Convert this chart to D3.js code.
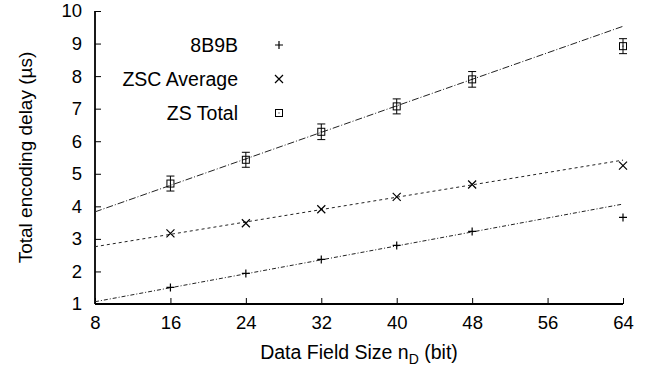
<!DOCTYPE html>
<html lang="en">
  <head>
    <meta charset="utf-8" />
    <script src="https://d3js.org/d3.v7.min.js"></script>
    <style>
      body { margin: 0; background: #fff; }
      text { font-family: "Liberation Sans", Arial, sans-serif; fill: #000; }
    </style>
    <title>Total encoding delay</title>
  </head>
  <body>
    <svg id="chart" width="662" height="373"></svg>

    <script>
      // measured points (x = data field size in bits)
      const sizes = [16, 24, 32, 40, 48, 64];
      const delay8b9b = [1.51, 1.94, 2.37, 2.8, 3.23, 3.66];
      const delayZscAvg = [3.17, 3.48, 3.91, 4.29, 4.67, 5.25];
      const delayZsTotal = [4.7, 5.43, 6.29, 7.07, 7.9, 8.92];
      const errZsTotal = [0.23, 0.23, 0.24, 0.23, 0.24, 0.23];

      // linear fits, value at x=8 and x=64
      const fitX = [8, 64];
      const fit8b9b = [1.07, 4.07];
      const fitZscAvg = [2.76, 5.42];
      const fitZsTotal = [3.83, 9.53];

      const xTicks = [8, 16, 24, 32, 40, 48, 56, 64];
      const yTicks = [1, 2, 3, 4, 5, 6, 7, 8, 9, 10];
      const legendNames = ["8B9B", "ZSC Average", "ZS Total"];

      const svg = d3.select("svg#chart");
      const margin = { left: 95, right: 39, top: 11, bottom: 69 };

      const x = d3.scaleLinear().domain([8, 64]).range([margin.left, 662 - margin.right]);
      const y = d3.scaleLinear().domain([1, 10]).range([373 - margin.bottom, margin.top]);

      // axes (ticks point inward)
      const xAxis = svg
        .append("g")
        .attr("transform", `translate(0,${y(1)})`)
        .call(d3.axisBottom(x).tickValues(xTicks).tickSize(-6).tickPadding(12));
      const yAxis = svg
        .append("g")
        .attr("transform", `translate(${x(8)},0)`)
        .call(d3.axisLeft(y).tickValues(yTicks).tickSize(-6).tickPadding(13));

      [xAxis, yAxis].forEach(g => {
        g.select(".domain").attr("stroke", "#000").attr("stroke-width", 1.8);
        g.selectAll(".tick line").attr("stroke", "#000");
        g.selectAll(".tick text")
          .attr("font-size", "18.5px")
          .attr("font-family", "Liberation Sans, Arial, sans-serif")
          .attr("fill", "#000");
      });
      // drop the outer tick stubs of the domain path
      xAxis.select(".domain").attr("d", `M${x(8)},0H${x(64)}`);
      yAxis.select(".domain").attr("d", `M0,${y(1)}V${y(10)}`);

      // axis titles
      const xTitle = svg
        .append("text")
        .attr("x", 359)
        .attr("y", 359)
        .attr("text-anchor", "middle")
        .attr("font-size", "19.5px");
      xTitle.append("tspan").text("Data Field Size n");
      xTitle.append("tspan").attr("font-size", "14px").attr("dy", 5).text("D");
      xTitle.append("tspan").attr("dy", -5).text(" (bit)");

      svg
        .append("text")
        .attr("transform", `translate(32,${(y(1) + y(10)) / 2}) rotate(-90)`)
        .attr("text-anchor", "middle")
        .attr("font-size", "19px")
        .text("Total encoding delay (\u00b5s)");

      // fit lines
      const line = d3.line().x(d => x(d[0])).y(d => y(d[1]));
      const fits = [
        { vals: fit8b9b, dash: "4,2,1,2" },
        { vals: fitZscAvg, dash: "3,3" },
        { vals: fitZsTotal, dash: "7,2,1,2" },
      ];
      svg
        .append("g")
        .selectAll("path")
        .data(fits)
        .join("path")
        .attr("d", f => line(fitX.map((v, i) => [v, f.vals[i]])))
        .attr("fill", "none")
        .attr("stroke", "#222")
        .attr("stroke-width", 1)
        .attr("stroke-dasharray", f => f.dash);

      // marker drawing helpers
      function plus(g, cx, cy) {
        g.append("path")
          .attr("d", `M${cx - 4},${cy}H${cx + 4}M${cx},${cy - 4}V${cy + 4}`)
          .attr("stroke", "#000")
          .attr("stroke-width", 1.2);
      }
      function cross(g, cx, cy) {
        g.append("path")
          .attr("d", `M${cx - 4},${cy - 4}L${cx + 4},${cy + 4}M${cx - 4},${cy + 4}L${cx + 4},${cy - 4}`)
          .attr("stroke", "#000")
          .attr("stroke-width", 1.2);
      }
      function box(g, cx, cy) {
        g.append("rect")
          .attr("x", cx - 3.5)
          .attr("y", cy - 3.5)
          .attr("width", 7)
          .attr("height", 7)
          .attr("fill", "none")
          .attr("stroke", "#000")
          .attr("stroke-width", 1);
        g.append("rect")
          .attr("x", cx - 0.5)
          .attr("y", cy - 0.5)
          .attr("width", 1)
          .attr("height", 1)
          .attr("fill", "#000");
      }

      const marks = svg.append("g");
      sizes.forEach((s, i) => {
        plus(marks, x(s), y(delay8b9b[i]));
        cross(marks, x(s), y(delayZscAvg[i]));
        // error bar for ZS Total
        const top = y(delayZsTotal[i] + errZsTotal[i]);
        const bot = y(delayZsTotal[i] - errZsTotal[i]);
        marks
          .append("path")
          .attr(
            "d",
            `M${x(s)},${top}V${bot}M${x(s) - 4},${top}H${x(s) + 4}M${x(s) - 4},${bot}H${x(s) + 4}`
          )
          .attr("stroke", "#000")
          .attr("stroke-width", 1);
        box(marks, x(s), y(delayZsTotal[i]));
      });

      // legend
      const legend = svg.append("g");
      const legendY = [45, 79, 113];
      const drawers = [plus, cross, box];
      legendNames.forEach((name, i) => {
        legend
          .append("text")
          .attr("x", 238)
          .attr("y", legendY[i] + 7)
          .attr("text-anchor", "end")
          .attr("font-size", "19.5px")
          .text(name);
        drawers[i](legend, 279, legendY[i]);
      });
    </script>
  </body>
</html>
